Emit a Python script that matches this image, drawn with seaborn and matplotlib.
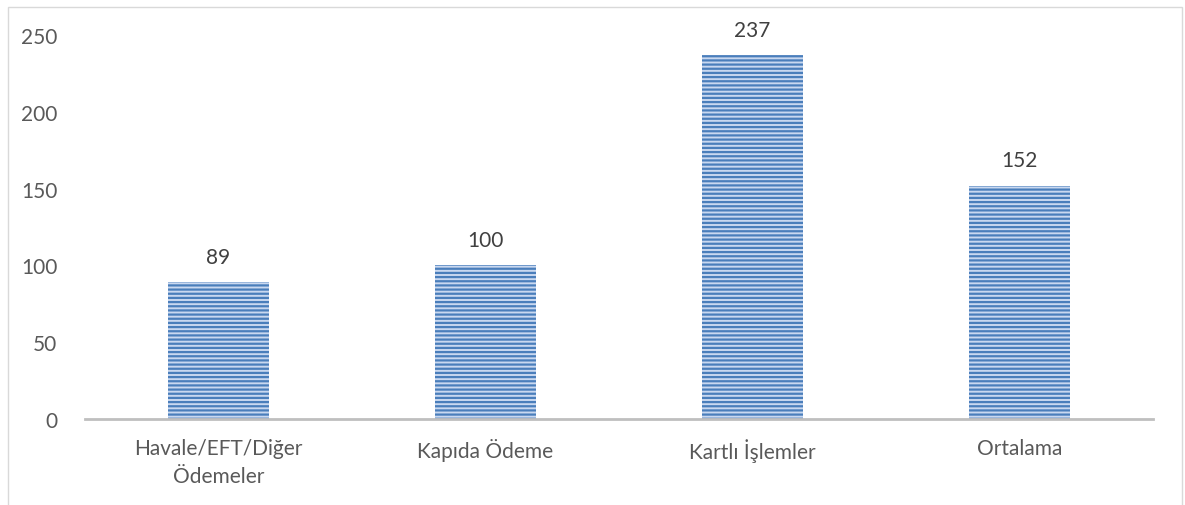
import matplotlib
matplotlib.use("Agg")
import matplotlib.pyplot as plt
import seaborn as sns
import pandas as pd
from matplotlib.patches import Rectangle

categories = ["Havale/EFT/Diğer\nÖdemeler", "Kapıda Ödeme", "Kartlı İşlemler", "Ortalama"]
values = [89, 100, 237, 152]
yticks = [0, 50, 100, 150, 200, 250]

sns.set_theme(style="white")
plt.rcParams['font.family'] = ['Lato', 'DejaVu Sans']
plt.rcParams['hatch.linewidth'] = 1.6

df = pd.DataFrame({"cat": categories, "val": values})

W, H = 1185, 506
fig = plt.figure(figsize=(W/100, H/100), dpi=100)
ax = fig.add_axes([85/W, 1-420/H, (1153-85)/W, (420-36)/H])

sns.barplot(data=df, x="cat", y="val", ax=ax, width=0.375,
            color="#c9d8f0", edgecolor="#4a7ebb", linewidth=0, saturation=1)
for p in ax.patches:
    p.set_hatch("----")
    p.set_edgecolor("#4a7ebb")
    p.set_linewidth(0)

for i, v in enumerate(values):
    ax.text(i, v + 10, str(v), ha="center", va="bottom", fontsize=15, color="#404040", clip_on=False)

ax.set_ylim(0, 250)
ax.set_yticks(yticks)
ax.set_xlim(-0.5, 3.5)
ax.set_xlabel("")
ax.set_ylabel("")
ax.tick_params(axis="y", length=0, pad=20, labelsize=15, labelcolor="#595959")
ax.tick_params(axis="x", length=0, pad=14, labelsize=15, labelcolor="#595959")
for lbl in ax.get_xticklabels():
    lbl.set_linespacing(1.45)
for s in ["top", "right", "left"]:
    ax.spines[s].set_visible(False)
ax.spines["bottom"].set_color("#bfbfbf")
ax.spines["bottom"].set_linewidth(2)

fig.patches.append(Rectangle((8/W, -0.01), (1182-8)/W, 1-8/H+0.01, transform=fig.transFigure,
                             fill=False, edgecolor="#d9d9d9", linewidth=1))

fig.savefig("out.png", dpi=100, facecolor="white")
